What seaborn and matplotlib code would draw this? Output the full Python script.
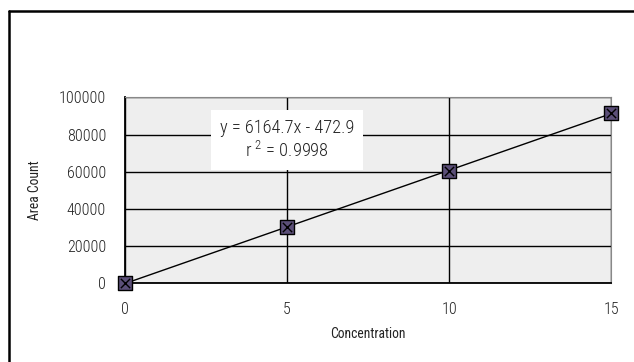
import numpy as np
import pandas as pd
import matplotlib
matplotlib.use("Agg")
import matplotlib.pyplot as plt
import seaborn as sns
from matplotlib.lines import Line2D

# calibration data
concentration = [0, 5, 10, 15]
area_count = [0, 30000, 60500, 91500]
x_ticks = [0, 5, 10, 15]
y_ticks = [0, 20000, 40000, 60000, 80000, 100000]
equation_text = "y = 6164.7x - 472.9\nr $^{2}$ = 0.9998"

sns.set_style("white")
plt.rcParams['font.family'] = ['Roboto Condensed', 'DejaVu Sans']
plt.rcParams['font.weight'] = 'light'
plt.rcParams['mathtext.fontset'] = 'custom'
plt.rcParams['mathtext.rm'] = 'Roboto Condensed:light'

df = pd.DataFrame({"Concentration": concentration, "Area Count": area_count})

# linear trendline
slope, intercept = np.polyfit(df["Concentration"], df["Area Count"], 1)
trend = pd.DataFrame({"Concentration": [min(concentration), max(concentration)]})
trend["Area Count"] = slope * trend["Concentration"] + intercept

fig = plt.figure(figsize=(6.34, 3.62), dpi=100)
ax = fig.add_axes([0.197, 0.218, 0.767, 0.513])
ax.set_facecolor("#eeeeee")

ax.set_xlim(0, 15)
ax.set_ylim(0, 100000)
ax.set_xticks(x_ticks)
ax.set_yticks(y_ticks)
ax.grid(True, color="black", linewidth=1.0)
ax.set_axisbelow(True)

sns.lineplot(data=trend, x="Concentration", y="Area Count", color="black",
             linewidth=1.0, ax=ax, zorder=3)
sns.scatterplot(data=df, x="Concentration", y="Area Count", marker="s", s=90,
                color="#5b4f78", edgecolor="black", linewidth=1.0, ax=ax,
                zorder=4, clip_on=False)
sns.scatterplot(data=df, x="Concentration", y="Area Count", marker="x", s=45,
                color="black", linewidth=1.0, ax=ax, zorder=5, clip_on=False)

for side in ["left", "bottom"]:
    ax.spines[side].set_color("black")
    ax.spines[side].set_linewidth(1.3)
for side in ["top", "right"]:
    ax.spines[side].set_color("#888888")
    ax.spines[side].set_linewidth(0.8)

ax.tick_params(axis="both", direction="out", length=5.5, width=1.0,
               color="black", labelsize=11.5, pad=8, labelcolor="#222222")
ax.set_xlabel("Concentration", fontsize=9.8, color="#222222")
ax.set_ylabel("Area Count", fontsize=9.8, color="#222222")
ax.xaxis.set_label_coords(0.5, -0.237)
ax.yaxis.set_label_coords(-0.171, 0.5)

ax.text(5, 77000, equation_text, ha="center", va="center", fontsize=13.2,
        linespacing=1.25, zorder=6, color="#222222",
        bbox=dict(boxstyle="square,pad=0.5", facecolor="white", edgecolor="none"))

# outer chart frame (cut off at right and bottom)
fig.add_artist(Line2D([0.0147, 0.0147], [0.0, 0.97], transform=fig.transFigure,
                      color="black", linewidth=1.8))
fig.add_artist(Line2D([0.0147, 1.0], [0.97, 0.97], transform=fig.transFigure,
                      color="black", linewidth=1.8))

fig.savefig("out.png", dpi=100)
